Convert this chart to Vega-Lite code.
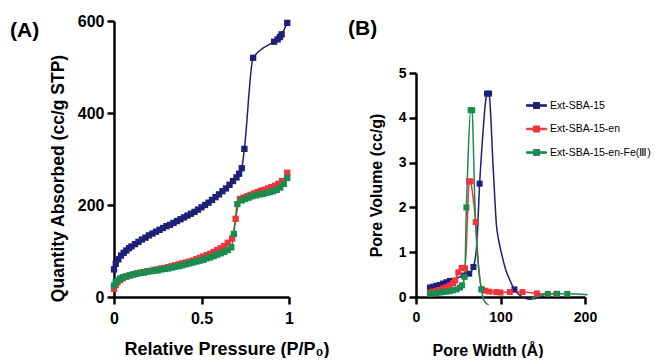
{
  "$schema": "https://vega.github.io/schema/vega-lite/v6.json",
  "background": "white",
  "padding": {"left": 10, "top": 13, "right": 0, "bottom": 0},
  "bounds": "flush",
  "spacing": 127,
  "config": {
    "view": {"stroke": null},
    "font": "Liberation Sans",
    "axis": {
      "grid": false,
      "domainColor": "black",
      "domainWidth": 2.5,
      "tickColor": "black",
      "tickWidth": 2.5,
      "tickSize": 7,
      "labelColor": "black",
      "labelFontWeight": "bold",
      "titleColor": "black",
      "titleFontWeight": "bold",
      "labelPadding": 3,
      "labelOverlap": false
    }
  },
  "datasets": {
    "isotherm": [
      {"sample": "Ext-SBA-15", "pressure": 0.0, "quantity": 60},
      {"sample": "Ext-SBA-15", "pressure": 0.01, "quantity": 72},
      {"sample": "Ext-SBA-15", "pressure": 0.025, "quantity": 82},
      {"sample": "Ext-SBA-15", "pressure": 0.04, "quantity": 90},
      {"sample": "Ext-SBA-15", "pressure": 0.055, "quantity": 96},
      {"sample": "Ext-SBA-15", "pressure": 0.07, "quantity": 101},
      {"sample": "Ext-SBA-15", "pressure": 0.085, "quantity": 106},
      {"sample": "Ext-SBA-15", "pressure": 0.1, "quantity": 110},
      {"sample": "Ext-SBA-15", "pressure": 0.12, "quantity": 115},
      {"sample": "Ext-SBA-15", "pressure": 0.14, "quantity": 120},
      {"sample": "Ext-SBA-15", "pressure": 0.16, "quantity": 125},
      {"sample": "Ext-SBA-15", "pressure": 0.18, "quantity": 129},
      {"sample": "Ext-SBA-15", "pressure": 0.2, "quantity": 134},
      {"sample": "Ext-SBA-15", "pressure": 0.22, "quantity": 138},
      {"sample": "Ext-SBA-15", "pressure": 0.24, "quantity": 142},
      {"sample": "Ext-SBA-15", "pressure": 0.26, "quantity": 146},
      {"sample": "Ext-SBA-15", "pressure": 0.28, "quantity": 150},
      {"sample": "Ext-SBA-15", "pressure": 0.3, "quantity": 154},
      {"sample": "Ext-SBA-15", "pressure": 0.32, "quantity": 157},
      {"sample": "Ext-SBA-15", "pressure": 0.34, "quantity": 161},
      {"sample": "Ext-SBA-15", "pressure": 0.36, "quantity": 165},
      {"sample": "Ext-SBA-15", "pressure": 0.38, "quantity": 169},
      {"sample": "Ext-SBA-15", "pressure": 0.4, "quantity": 173},
      {"sample": "Ext-SBA-15", "pressure": 0.42, "quantity": 177},
      {"sample": "Ext-SBA-15", "pressure": 0.44, "quantity": 181},
      {"sample": "Ext-SBA-15", "pressure": 0.46, "quantity": 185},
      {"sample": "Ext-SBA-15", "pressure": 0.48, "quantity": 190},
      {"sample": "Ext-SBA-15", "pressure": 0.5, "quantity": 195},
      {"sample": "Ext-SBA-15", "pressure": 0.52, "quantity": 200},
      {"sample": "Ext-SBA-15", "pressure": 0.54, "quantity": 205},
      {"sample": "Ext-SBA-15", "pressure": 0.56, "quantity": 211},
      {"sample": "Ext-SBA-15", "pressure": 0.58, "quantity": 217},
      {"sample": "Ext-SBA-15", "pressure": 0.6, "quantity": 223},
      {"sample": "Ext-SBA-15", "pressure": 0.62, "quantity": 230},
      {"sample": "Ext-SBA-15", "pressure": 0.64, "quantity": 236},
      {"sample": "Ext-SBA-15", "pressure": 0.66, "quantity": 244},
      {"sample": "Ext-SBA-15", "pressure": 0.68, "quantity": 252},
      {"sample": "Ext-SBA-15", "pressure": 0.7, "quantity": 260},
      {"sample": "Ext-SBA-15", "pressure": 0.715, "quantity": 268},
      {"sample": "Ext-SBA-15", "pressure": 0.73, "quantity": 280},
      {"sample": "Ext-SBA-15", "pressure": 0.745, "quantity": 322},
      {"sample": "Ext-SBA-15", "pressure": 0.795, "quantity": 520},
      {"sample": "Ext-SBA-15", "pressure": 0.915, "quantity": 555},
      {"sample": "Ext-SBA-15", "pressure": 0.935, "quantity": 560},
      {"sample": "Ext-SBA-15", "pressure": 0.948, "quantity": 565},
      {"sample": "Ext-SBA-15", "pressure": 0.958, "quantity": 571},
      {"sample": "Ext-SBA-15", "pressure": 0.99, "quantity": 596},
      {"sample": "Ext-SBA-15-en", "pressure": 0.0, "quantity": 18},
      {"sample": "Ext-SBA-15-en", "pressure": 0.01, "quantity": 26},
      {"sample": "Ext-SBA-15-en", "pressure": 0.02, "quantity": 32},
      {"sample": "Ext-SBA-15-en", "pressure": 0.035, "quantity": 37},
      {"sample": "Ext-SBA-15-en", "pressure": 0.05, "quantity": 41},
      {"sample": "Ext-SBA-15-en", "pressure": 0.07, "quantity": 44},
      {"sample": "Ext-SBA-15-en", "pressure": 0.09, "quantity": 47},
      {"sample": "Ext-SBA-15-en", "pressure": 0.11, "quantity": 49},
      {"sample": "Ext-SBA-15-en", "pressure": 0.13, "quantity": 51},
      {"sample": "Ext-SBA-15-en", "pressure": 0.15, "quantity": 53},
      {"sample": "Ext-SBA-15-en", "pressure": 0.17, "quantity": 54},
      {"sample": "Ext-SBA-15-en", "pressure": 0.19, "quantity": 56},
      {"sample": "Ext-SBA-15-en", "pressure": 0.21, "quantity": 57},
      {"sample": "Ext-SBA-15-en", "pressure": 0.23, "quantity": 59},
      {"sample": "Ext-SBA-15-en", "pressure": 0.25, "quantity": 60},
      {"sample": "Ext-SBA-15-en", "pressure": 0.27, "quantity": 62},
      {"sample": "Ext-SBA-15-en", "pressure": 0.29, "quantity": 63},
      {"sample": "Ext-SBA-15-en", "pressure": 0.31, "quantity": 65},
      {"sample": "Ext-SBA-15-en", "pressure": 0.33, "quantity": 67},
      {"sample": "Ext-SBA-15-en", "pressure": 0.35, "quantity": 69},
      {"sample": "Ext-SBA-15-en", "pressure": 0.37, "quantity": 71},
      {"sample": "Ext-SBA-15-en", "pressure": 0.39, "quantity": 73},
      {"sample": "Ext-SBA-15-en", "pressure": 0.41, "quantity": 75},
      {"sample": "Ext-SBA-15-en", "pressure": 0.43, "quantity": 77},
      {"sample": "Ext-SBA-15-en", "pressure": 0.45, "quantity": 79},
      {"sample": "Ext-SBA-15-en", "pressure": 0.47, "quantity": 82},
      {"sample": "Ext-SBA-15-en", "pressure": 0.49, "quantity": 85},
      {"sample": "Ext-SBA-15-en", "pressure": 0.51, "quantity": 88},
      {"sample": "Ext-SBA-15-en", "pressure": 0.53, "quantity": 91},
      {"sample": "Ext-SBA-15-en", "pressure": 0.55, "quantity": 94},
      {"sample": "Ext-SBA-15-en", "pressure": 0.57, "quantity": 98},
      {"sample": "Ext-SBA-15-en", "pressure": 0.59, "quantity": 102},
      {"sample": "Ext-SBA-15-en", "pressure": 0.61, "quantity": 106},
      {"sample": "Ext-SBA-15-en", "pressure": 0.63, "quantity": 111},
      {"sample": "Ext-SBA-15-en", "pressure": 0.65, "quantity": 118},
      {"sample": "Ext-SBA-15-en", "pressure": 0.675, "quantity": 127},
      {"sample": "Ext-SBA-15-en", "pressure": 0.695, "quantity": 170},
      {"sample": "Ext-SBA-15-en", "pressure": 0.72, "quantity": 213},
      {"sample": "Ext-SBA-15-en", "pressure": 0.74, "quantity": 216},
      {"sample": "Ext-SBA-15-en", "pressure": 0.76, "quantity": 219},
      {"sample": "Ext-SBA-15-en", "pressure": 0.78, "quantity": 222},
      {"sample": "Ext-SBA-15-en", "pressure": 0.8, "quantity": 225},
      {"sample": "Ext-SBA-15-en", "pressure": 0.82, "quantity": 228},
      {"sample": "Ext-SBA-15-en", "pressure": 0.84, "quantity": 231},
      {"sample": "Ext-SBA-15-en", "pressure": 0.86, "quantity": 233},
      {"sample": "Ext-SBA-15-en", "pressure": 0.88, "quantity": 236},
      {"sample": "Ext-SBA-15-en", "pressure": 0.9, "quantity": 239},
      {"sample": "Ext-SBA-15-en", "pressure": 0.92, "quantity": 242},
      {"sample": "Ext-SBA-15-en", "pressure": 0.94, "quantity": 246},
      {"sample": "Ext-SBA-15-en", "pressure": 0.96, "quantity": 252},
      {"sample": "Ext-SBA-15-en", "pressure": 0.99, "quantity": 270},
      {"sample": "Ext-SBA-15-en-Fe(Ⅲ)", "pressure": 0.0, "quantity": 25},
      {"sample": "Ext-SBA-15-en-Fe(Ⅲ)", "pressure": 0.01, "quantity": 32},
      {"sample": "Ext-SBA-15-en-Fe(Ⅲ)", "pressure": 0.02, "quantity": 36},
      {"sample": "Ext-SBA-15-en-Fe(Ⅲ)", "pressure": 0.035, "quantity": 40},
      {"sample": "Ext-SBA-15-en-Fe(Ⅲ)", "pressure": 0.05, "quantity": 43},
      {"sample": "Ext-SBA-15-en-Fe(Ⅲ)", "pressure": 0.07, "quantity": 45},
      {"sample": "Ext-SBA-15-en-Fe(Ⅲ)", "pressure": 0.09, "quantity": 47},
      {"sample": "Ext-SBA-15-en-Fe(Ⅲ)", "pressure": 0.11, "quantity": 49},
      {"sample": "Ext-SBA-15-en-Fe(Ⅲ)", "pressure": 0.13, "quantity": 51},
      {"sample": "Ext-SBA-15-en-Fe(Ⅲ)", "pressure": 0.15, "quantity": 52},
      {"sample": "Ext-SBA-15-en-Fe(Ⅲ)", "pressure": 0.17, "quantity": 53},
      {"sample": "Ext-SBA-15-en-Fe(Ⅲ)", "pressure": 0.19, "quantity": 55},
      {"sample": "Ext-SBA-15-en-Fe(Ⅲ)", "pressure": 0.21, "quantity": 56},
      {"sample": "Ext-SBA-15-en-Fe(Ⅲ)", "pressure": 0.23, "quantity": 57},
      {"sample": "Ext-SBA-15-en-Fe(Ⅲ)", "pressure": 0.25, "quantity": 58},
      {"sample": "Ext-SBA-15-en-Fe(Ⅲ)", "pressure": 0.27, "quantity": 60},
      {"sample": "Ext-SBA-15-en-Fe(Ⅲ)", "pressure": 0.29, "quantity": 61},
      {"sample": "Ext-SBA-15-en-Fe(Ⅲ)", "pressure": 0.31, "quantity": 62},
      {"sample": "Ext-SBA-15-en-Fe(Ⅲ)", "pressure": 0.33, "quantity": 64},
      {"sample": "Ext-SBA-15-en-Fe(Ⅲ)", "pressure": 0.35, "quantity": 66},
      {"sample": "Ext-SBA-15-en-Fe(Ⅲ)", "pressure": 0.37, "quantity": 67},
      {"sample": "Ext-SBA-15-en-Fe(Ⅲ)", "pressure": 0.39, "quantity": 69},
      {"sample": "Ext-SBA-15-en-Fe(Ⅲ)", "pressure": 0.41, "quantity": 71},
      {"sample": "Ext-SBA-15-en-Fe(Ⅲ)", "pressure": 0.43, "quantity": 73},
      {"sample": "Ext-SBA-15-en-Fe(Ⅲ)", "pressure": 0.45, "quantity": 75},
      {"sample": "Ext-SBA-15-en-Fe(Ⅲ)", "pressure": 0.47, "quantity": 77},
      {"sample": "Ext-SBA-15-en-Fe(Ⅲ)", "pressure": 0.49, "quantity": 79},
      {"sample": "Ext-SBA-15-en-Fe(Ⅲ)", "pressure": 0.51, "quantity": 81},
      {"sample": "Ext-SBA-15-en-Fe(Ⅲ)", "pressure": 0.53, "quantity": 84},
      {"sample": "Ext-SBA-15-en-Fe(Ⅲ)", "pressure": 0.55, "quantity": 86},
      {"sample": "Ext-SBA-15-en-Fe(Ⅲ)", "pressure": 0.57, "quantity": 89},
      {"sample": "Ext-SBA-15-en-Fe(Ⅲ)", "pressure": 0.59, "quantity": 92},
      {"sample": "Ext-SBA-15-en-Fe(Ⅲ)", "pressure": 0.61, "quantity": 95},
      {"sample": "Ext-SBA-15-en-Fe(Ⅲ)", "pressure": 0.63, "quantity": 98},
      {"sample": "Ext-SBA-15-en-Fe(Ⅲ)", "pressure": 0.65, "quantity": 102},
      {"sample": "Ext-SBA-15-en-Fe(Ⅲ)", "pressure": 0.67, "quantity": 108},
      {"sample": "Ext-SBA-15-en-Fe(Ⅲ)", "pressure": 0.685, "quantity": 137},
      {"sample": "Ext-SBA-15-en-Fe(Ⅲ)", "pressure": 0.705, "quantity": 202},
      {"sample": "Ext-SBA-15-en-Fe(Ⅲ)", "pressure": 0.73, "quantity": 210},
      {"sample": "Ext-SBA-15-en-Fe(Ⅲ)", "pressure": 0.75, "quantity": 213},
      {"sample": "Ext-SBA-15-en-Fe(Ⅲ)", "pressure": 0.77, "quantity": 216},
      {"sample": "Ext-SBA-15-en-Fe(Ⅲ)", "pressure": 0.79, "quantity": 219},
      {"sample": "Ext-SBA-15-en-Fe(Ⅲ)", "pressure": 0.81, "quantity": 221},
      {"sample": "Ext-SBA-15-en-Fe(Ⅲ)", "pressure": 0.83, "quantity": 223},
      {"sample": "Ext-SBA-15-en-Fe(Ⅲ)", "pressure": 0.85, "quantity": 224},
      {"sample": "Ext-SBA-15-en-Fe(Ⅲ)", "pressure": 0.87, "quantity": 226},
      {"sample": "Ext-SBA-15-en-Fe(Ⅲ)", "pressure": 0.89, "quantity": 228},
      {"sample": "Ext-SBA-15-en-Fe(Ⅲ)", "pressure": 0.91, "quantity": 230},
      {"sample": "Ext-SBA-15-en-Fe(Ⅲ)", "pressure": 0.93, "quantity": 233},
      {"sample": "Ext-SBA-15-en-Fe(Ⅲ)", "pressure": 0.95, "quantity": 238},
      {"sample": "Ext-SBA-15-en-Fe(Ⅲ)", "pressure": 0.97, "quantity": 246},
      {"sample": "Ext-SBA-15-en-Fe(Ⅲ)", "pressure": 0.99, "quantity": 259}
    ],
    "psdLine": [
      {"sample": "Ext-SBA-15", "segment": 1, "pore_width": 16.5, "pore_volume": 0.21},
      {"sample": "Ext-SBA-15", "segment": 1, "pore_width": 20, "pore_volume": 0.23},
      {"sample": "Ext-SBA-15", "segment": 1, "pore_width": 24, "pore_volume": 0.25},
      {"sample": "Ext-SBA-15", "segment": 1, "pore_width": 28, "pore_volume": 0.27},
      {"sample": "Ext-SBA-15", "segment": 1, "pore_width": 32, "pore_volume": 0.3},
      {"sample": "Ext-SBA-15", "segment": 1, "pore_width": 36, "pore_volume": 0.33},
      {"sample": "Ext-SBA-15", "segment": 1, "pore_width": 40, "pore_volume": 0.36},
      {"sample": "Ext-SBA-15", "segment": 1, "pore_width": 44, "pore_volume": 0.39},
      {"sample": "Ext-SBA-15", "segment": 1, "pore_width": 48, "pore_volume": 0.42},
      {"sample": "Ext-SBA-15", "segment": 1, "pore_width": 52, "pore_volume": 0.45},
      {"sample": "Ext-SBA-15", "segment": 1, "pore_width": 57, "pore_volume": 0.48},
      {"sample": "Ext-SBA-15", "segment": 1, "pore_width": 63, "pore_volume": 0.52},
      {"sample": "Ext-SBA-15", "segment": 1, "pore_width": 68, "pore_volume": 0.67},
      {"sample": "Ext-SBA-15", "segment": 1, "pore_width": 72, "pore_volume": 1.2},
      {"sample": "Ext-SBA-15", "segment": 1, "pore_width": 75.3, "pore_volume": 2.53},
      {"sample": "Ext-SBA-15", "segment": 1, "pore_width": 79, "pore_volume": 3.6},
      {"sample": "Ext-SBA-15", "segment": 1, "pore_width": 82, "pore_volume": 4.3},
      {"sample": "Ext-SBA-15", "segment": 1, "pore_width": 84, "pore_volume": 4.54},
      {"sample": "Ext-SBA-15", "segment": 1, "pore_width": 86.5, "pore_volume": 4.54},
      {"sample": "Ext-SBA-15", "segment": 1, "pore_width": 88, "pore_volume": 4.2},
      {"sample": "Ext-SBA-15", "segment": 1, "pore_width": 91, "pore_volume": 3.0},
      {"sample": "Ext-SBA-15", "segment": 1, "pore_width": 93, "pore_volume": 2.3},
      {"sample": "Ext-SBA-15", "segment": 1, "pore_width": 95, "pore_volume": 1.65},
      {"sample": "Ext-SBA-15", "segment": 1, "pore_width": 98, "pore_volume": 1.25},
      {"sample": "Ext-SBA-15", "segment": 1, "pore_width": 101, "pore_volume": 0.99},
      {"sample": "Ext-SBA-15", "segment": 1, "pore_width": 106, "pore_volume": 0.62},
      {"sample": "Ext-SBA-15", "segment": 1, "pore_width": 111, "pore_volume": 0.38},
      {"sample": "Ext-SBA-15", "segment": 1, "pore_width": 116.5, "pore_volume": 0.17},
      {"sample": "Ext-SBA-15", "segment": 1, "pore_width": 122, "pore_volume": 0.05},
      {"sample": "Ext-SBA-15", "segment": 1, "pore_width": 128, "pore_volume": -0.02},
      {"sample": "Ext-SBA-15", "segment": 1, "pore_width": 134, "pore_volume": -0.05},
      {"sample": "Ext-SBA-15", "segment": 1, "pore_width": 140, "pore_volume": -0.04},
      {"sample": "Ext-SBA-15", "segment": 1, "pore_width": 146, "pore_volume": 0.0},
      {"sample": "Ext-SBA-15", "segment": 1, "pore_width": 152, "pore_volume": 0.02},
      {"sample": "Ext-SBA-15-en", "segment": 1, "pore_width": 16.5, "pore_volume": 0.1},
      {"sample": "Ext-SBA-15-en", "segment": 1, "pore_width": 20, "pore_volume": 0.12},
      {"sample": "Ext-SBA-15-en", "segment": 1, "pore_width": 24, "pore_volume": 0.14},
      {"sample": "Ext-SBA-15-en", "segment": 1, "pore_width": 28, "pore_volume": 0.16},
      {"sample": "Ext-SBA-15-en", "segment": 1, "pore_width": 32, "pore_volume": 0.19},
      {"sample": "Ext-SBA-15-en", "segment": 1, "pore_width": 36, "pore_volume": 0.22},
      {"sample": "Ext-SBA-15-en", "segment": 1, "pore_width": 40, "pore_volume": 0.26},
      {"sample": "Ext-SBA-15-en", "segment": 1, "pore_width": 44, "pore_volume": 0.31},
      {"sample": "Ext-SBA-15-en", "segment": 1, "pore_width": 46.5, "pore_volume": 0.37},
      {"sample": "Ext-SBA-15-en", "segment": 1, "pore_width": 50, "pore_volume": 0.55},
      {"sample": "Ext-SBA-15-en", "segment": 1, "pore_width": 54, "pore_volume": 0.65},
      {"sample": "Ext-SBA-15-en", "segment": 1, "pore_width": 58, "pore_volume": 0.64},
      {"sample": "Ext-SBA-15-en", "segment": 1, "pore_width": 61, "pore_volume": 1.8},
      {"sample": "Ext-SBA-15-en", "segment": 1, "pore_width": 62.7, "pore_volume": 2.58},
      {"sample": "Ext-SBA-15-en", "segment": 1, "pore_width": 64.5, "pore_volume": 2.58},
      {"sample": "Ext-SBA-15-en", "segment": 1, "pore_width": 67, "pore_volume": 2.3},
      {"sample": "Ext-SBA-15-en", "segment": 1, "pore_width": 70.6, "pore_volume": 1.67},
      {"sample": "Ext-SBA-15-en", "segment": 1, "pore_width": 74, "pore_volume": 0.7},
      {"sample": "Ext-SBA-15-en", "segment": 1, "pore_width": 78, "pore_volume": 0.17},
      {"sample": "Ext-SBA-15-en", "segment": 1, "pore_width": 82, "pore_volume": 0.14},
      {"sample": "Ext-SBA-15-en", "segment": 1, "pore_width": 87, "pore_volume": 0.12},
      {"sample": "Ext-SBA-15-en", "segment": 1, "pore_width": 95, "pore_volume": 0.11},
      {"sample": "Ext-SBA-15-en", "segment": 1, "pore_width": 100, "pore_volume": 0.1},
      {"sample": "Ext-SBA-15-en", "segment": 1, "pore_width": 111, "pore_volume": 0.11},
      {"sample": "Ext-SBA-15-en", "segment": 1, "pore_width": 126, "pore_volume": 0.11},
      {"sample": "Ext-SBA-15-en", "segment": 1, "pore_width": 143, "pore_volume": 0.08},
      {"sample": "Ext-SBA-15-en", "segment": 1, "pore_width": 166, "pore_volume": 0.07},
      {"sample": "Ext-SBA-15-en-Fe(Ⅲ)", "segment": 1, "pore_width": 16.5, "pore_volume": 0.07},
      {"sample": "Ext-SBA-15-en-Fe(Ⅲ)", "segment": 1, "pore_width": 20, "pore_volume": 0.08},
      {"sample": "Ext-SBA-15-en-Fe(Ⅲ)", "segment": 1, "pore_width": 24, "pore_volume": 0.09},
      {"sample": "Ext-SBA-15-en-Fe(Ⅲ)", "segment": 1, "pore_width": 28, "pore_volume": 0.1},
      {"sample": "Ext-SBA-15-en-Fe(Ⅲ)", "segment": 1, "pore_width": 32, "pore_volume": 0.11},
      {"sample": "Ext-SBA-15-en-Fe(Ⅲ)", "segment": 1, "pore_width": 36, "pore_volume": 0.12},
      {"sample": "Ext-SBA-15-en-Fe(Ⅲ)", "segment": 1, "pore_width": 40, "pore_volume": 0.13},
      {"sample": "Ext-SBA-15-en-Fe(Ⅲ)", "segment": 1, "pore_width": 44, "pore_volume": 0.15},
      {"sample": "Ext-SBA-15-en-Fe(Ⅲ)", "segment": 1, "pore_width": 48, "pore_volume": 0.17},
      {"sample": "Ext-SBA-15-en-Fe(Ⅲ)", "segment": 1, "pore_width": 52, "pore_volume": 0.21},
      {"sample": "Ext-SBA-15-en-Fe(Ⅲ)", "segment": 1, "pore_width": 54.5, "pore_volume": 0.26},
      {"sample": "Ext-SBA-15-en-Fe(Ⅲ)", "segment": 1, "pore_width": 57.6, "pore_volume": 0.45},
      {"sample": "Ext-SBA-15-en-Fe(Ⅲ)", "segment": 1, "pore_width": 59.6, "pore_volume": 2.0},
      {"sample": "Ext-SBA-15-en-Fe(Ⅲ)", "segment": 1, "pore_width": 61.6, "pore_volume": 3.1},
      {"sample": "Ext-SBA-15-en-Fe(Ⅲ)", "segment": 1, "pore_width": 64.7, "pore_volume": 4.17},
      {"sample": "Ext-SBA-15-en-Fe(Ⅲ)", "segment": 1, "pore_width": 66.5, "pore_volume": 4.17},
      {"sample": "Ext-SBA-15-en-Fe(Ⅲ)", "segment": 1, "pore_width": 68, "pore_volume": 3.3},
      {"sample": "Ext-SBA-15-en-Fe(Ⅲ)", "segment": 1, "pore_width": 69.5, "pore_volume": 2.2},
      {"sample": "Ext-SBA-15-en-Fe(Ⅲ)", "segment": 1, "pore_width": 71.5, "pore_volume": 1.3},
      {"sample": "Ext-SBA-15-en-Fe(Ⅲ)", "segment": 1, "pore_width": 73.3, "pore_volume": 0.8},
      {"sample": "Ext-SBA-15-en-Fe(Ⅲ)", "segment": 1, "pore_width": 77.3, "pore_volume": 0.17},
      {"sample": "Ext-SBA-15-en-Fe(Ⅲ)", "segment": 1, "pore_width": 80, "pore_volume": -0.05},
      {"sample": "Ext-SBA-15-en-Fe(Ⅲ)", "segment": 1, "pore_width": 83, "pore_volume": -0.14},
      {"sample": "Ext-SBA-15-en-Fe(Ⅲ)", "segment": 1, "pore_width": 86, "pore_volume": -0.17},
      {"sample": "Ext-SBA-15-en-Fe(Ⅲ)", "segment": 2, "pore_width": 136, "pore_volume": -0.05},
      {"sample": "Ext-SBA-15-en-Fe(Ⅲ)", "segment": 2, "pore_width": 143, "pore_volume": 0.01},
      {"sample": "Ext-SBA-15-en-Fe(Ⅲ)", "segment": 2, "pore_width": 150, "pore_volume": 0.05},
      {"sample": "Ext-SBA-15-en-Fe(Ⅲ)", "segment": 2, "pore_width": 156, "pore_volume": 0.07},
      {"sample": "Ext-SBA-15-en-Fe(Ⅲ)", "segment": 2, "pore_width": 167, "pore_volume": 0.07},
      {"sample": "Ext-SBA-15-en-Fe(Ⅲ)", "segment": 2, "pore_width": 179, "pore_volume": 0.07},
      {"sample": "Ext-SBA-15-en-Fe(Ⅲ)", "segment": 2, "pore_width": 203, "pore_volume": 0.05}
    ],
    "psdMarkers": [
      {"sample": "Ext-SBA-15", "pore_width": 16.5, "pore_volume": 0.21},
      {"sample": "Ext-SBA-15", "pore_width": 20, "pore_volume": 0.23},
      {"sample": "Ext-SBA-15", "pore_width": 24, "pore_volume": 0.25},
      {"sample": "Ext-SBA-15", "pore_width": 28, "pore_volume": 0.27},
      {"sample": "Ext-SBA-15", "pore_width": 32, "pore_volume": 0.3},
      {"sample": "Ext-SBA-15", "pore_width": 36, "pore_volume": 0.33},
      {"sample": "Ext-SBA-15", "pore_width": 40, "pore_volume": 0.36},
      {"sample": "Ext-SBA-15", "pore_width": 57, "pore_volume": 0.48},
      {"sample": "Ext-SBA-15", "pore_width": 63, "pore_volume": 0.52},
      {"sample": "Ext-SBA-15", "pore_width": 68, "pore_volume": 0.67},
      {"sample": "Ext-SBA-15", "pore_width": 75.3, "pore_volume": 2.53},
      {"sample": "Ext-SBA-15", "pore_width": 84, "pore_volume": 4.54},
      {"sample": "Ext-SBA-15", "pore_width": 86.5, "pore_volume": 4.54},
      {"sample": "Ext-SBA-15", "pore_width": 116.5, "pore_volume": 0.17},
      {"sample": "Ext-SBA-15-en", "pore_width": 16.5, "pore_volume": 0.1},
      {"sample": "Ext-SBA-15-en", "pore_width": 20, "pore_volume": 0.12},
      {"sample": "Ext-SBA-15-en", "pore_width": 24, "pore_volume": 0.14},
      {"sample": "Ext-SBA-15-en", "pore_width": 28, "pore_volume": 0.16},
      {"sample": "Ext-SBA-15-en", "pore_width": 32, "pore_volume": 0.19},
      {"sample": "Ext-SBA-15-en", "pore_width": 36, "pore_volume": 0.22},
      {"sample": "Ext-SBA-15-en", "pore_width": 40, "pore_volume": 0.26},
      {"sample": "Ext-SBA-15-en", "pore_width": 44, "pore_volume": 0.31},
      {"sample": "Ext-SBA-15-en", "pore_width": 46.5, "pore_volume": 0.37},
      {"sample": "Ext-SBA-15-en", "pore_width": 50, "pore_volume": 0.55},
      {"sample": "Ext-SBA-15-en", "pore_width": 54, "pore_volume": 0.65},
      {"sample": "Ext-SBA-15-en", "pore_width": 58, "pore_volume": 0.64},
      {"sample": "Ext-SBA-15-en", "pore_width": 62.7, "pore_volume": 2.58},
      {"sample": "Ext-SBA-15-en", "pore_width": 64.5, "pore_volume": 2.58},
      {"sample": "Ext-SBA-15-en", "pore_width": 70.6, "pore_volume": 1.67},
      {"sample": "Ext-SBA-15-en", "pore_width": 78, "pore_volume": 0.17},
      {"sample": "Ext-SBA-15-en", "pore_width": 82, "pore_volume": 0.14},
      {"sample": "Ext-SBA-15-en", "pore_width": 87, "pore_volume": 0.12},
      {"sample": "Ext-SBA-15-en", "pore_width": 95, "pore_volume": 0.11},
      {"sample": "Ext-SBA-15-en", "pore_width": 100, "pore_volume": 0.1},
      {"sample": "Ext-SBA-15-en", "pore_width": 111, "pore_volume": 0.11},
      {"sample": "Ext-SBA-15-en", "pore_width": 126, "pore_volume": 0.11},
      {"sample": "Ext-SBA-15-en", "pore_width": 143, "pore_volume": 0.08},
      {"sample": "Ext-SBA-15-en", "pore_width": 166, "pore_volume": 0.07},
      {"sample": "Ext-SBA-15-en-Fe(Ⅲ)", "pore_width": 16.5, "pore_volume": 0.07},
      {"sample": "Ext-SBA-15-en-Fe(Ⅲ)", "pore_width": 20, "pore_volume": 0.08},
      {"sample": "Ext-SBA-15-en-Fe(Ⅲ)", "pore_width": 24, "pore_volume": 0.09},
      {"sample": "Ext-SBA-15-en-Fe(Ⅲ)", "pore_width": 28, "pore_volume": 0.1},
      {"sample": "Ext-SBA-15-en-Fe(Ⅲ)", "pore_width": 32, "pore_volume": 0.11},
      {"sample": "Ext-SBA-15-en-Fe(Ⅲ)", "pore_width": 36, "pore_volume": 0.12},
      {"sample": "Ext-SBA-15-en-Fe(Ⅲ)", "pore_width": 40, "pore_volume": 0.13},
      {"sample": "Ext-SBA-15-en-Fe(Ⅲ)", "pore_width": 44, "pore_volume": 0.15},
      {"sample": "Ext-SBA-15-en-Fe(Ⅲ)", "pore_width": 48, "pore_volume": 0.17},
      {"sample": "Ext-SBA-15-en-Fe(Ⅲ)", "pore_width": 52, "pore_volume": 0.21},
      {"sample": "Ext-SBA-15-en-Fe(Ⅲ)", "pore_width": 54.5, "pore_volume": 0.26},
      {"sample": "Ext-SBA-15-en-Fe(Ⅲ)", "pore_width": 57.6, "pore_volume": 0.45},
      {"sample": "Ext-SBA-15-en-Fe(Ⅲ)", "pore_width": 59.6, "pore_volume": 2.0},
      {"sample": "Ext-SBA-15-en-Fe(Ⅲ)", "pore_width": 64.7, "pore_volume": 4.17},
      {"sample": "Ext-SBA-15-en-Fe(Ⅲ)", "pore_width": 66.5, "pore_volume": 4.17},
      {"sample": "Ext-SBA-15-en-Fe(Ⅲ)", "pore_width": 77.3, "pore_volume": 0.17},
      {"sample": "Ext-SBA-15-en-Fe(Ⅲ)", "pore_width": 156, "pore_volume": 0.07},
      {"sample": "Ext-SBA-15-en-Fe(Ⅲ)", "pore_width": 167, "pore_volume": 0.07},
      {"sample": "Ext-SBA-15-en-Fe(Ⅲ)", "pore_width": 179, "pore_volume": 0.07}
    ]
  },
  "resolve": {"legend": {"color": "independent"}},
  "hconcat": [
    {
      "width": 175,
      "height": 276,
      "title": {"text": "(A)", "anchor": "start", "frame": "group", "orient": "top", "baseline": "middle", "offset": -7, "dx": -104, "dy": 32, "fontSize": 21, "fontWeight": "bold", "color": "black"},
      "data": {"name": "isotherm"},
      "encoding": {
        "x": {"field": "pressure", "type": "quantitative", "scale": {"domain": [0, 1], "nice": false},
              "axis": {"values": [0, 0.5, 1], "format": "~g", "title": "Relative Pressure (P/P₀)", "titleX": 112.5, "labelFontSize": 16, "titleFontSize": 18, "labelPadding": 6, "titlePadding": 14, "labelFlush": false}},
        "y": {"field": "quantity", "type": "quantitative", "scale": {"domain": [0, 600], "nice": false},
              "axis": {"values": [0, 200, 400, 600], "title": "Quantity Absorbed (cc/g STP)", "titleY": 157, "labelFontSize": 16, "titleFontSize": 17.5, "titlePadding": 10}},
        "color": {"field": "sample", "type": "nominal",
                  "scale": {"domain": ["Ext-SBA-15", "Ext-SBA-15-en", "Ext-SBA-15-en-Fe(Ⅲ)"], "range": ["#1f1f78", "#f0343c", "#1a8c4e"]},
                  "legend": null}
      },
      "layer": [
        {"mark": {"type": "line", "strokeWidth": 1.5, "interpolate": "monotone"}},
        {"mark": {"type": "square", "size": 40, "opacity": 1}}
      ]
    },
    {
      "width": 169,
      "height": 276,
      "title": {"text": "(B)", "anchor": "start", "frame": "group", "orient": "top", "baseline": "middle", "offset": -7, "dx": -68, "dy": 22, "fontSize": 21, "fontWeight": "bold", "color": "black"},
      "encoding": {
        "x": {"field": "pore_width", "type": "quantitative", "scale": {"domain": [0, 200], "nice": false},
              "axis": {"values": [0, 100, 200], "title": "Pore Width (Å)", "titleX": 71.5, "labelFontSize": 14, "titleFontSize": 16, "labelPadding": 6, "titlePadding": 18, "labelFlush": false}},
        "y": {"field": "pore_volume", "type": "quantitative", "scale": {"domain": [0, 5], "nice": false, "range": [276, 52]},
              "axis": {"values": [0, 1, 2, 3, 4, 5], "title": "Pore Volume (cc/g)", "titleY": 164, "labelFontSize": 14, "titleFontSize": 16, "titlePadding": 14}},
        "color": {"field": "sample", "type": "nominal",
                  "scale": {"domain": ["Ext-SBA-15", "Ext-SBA-15-en", "Ext-SBA-15-en-Fe(Ⅲ)"], "range": ["#1f1f78", "#f0343c", "#1a8c4e"]},
                  "legend": {"orient": "none", "legendX": 110, "legendY": 74, "title": null,
                             "symbolType": "M-1,-0.075H1V0.075H-1Z M-0.3,-0.3H0.3V0.3H-0.3Z",
                             "symbolSize": 400, "symbolStrokeWidth": 1, "labelFont": "Liberation Sans", "labelFontSize": 10.5,
                             "labelColor": "black", "rowPadding": 7.5, "labelOffset": 3, "labelLimit": 300}}
      },
      "layer": [
        {"data": {"name": "psdLine"}, "mark": {"type": "line", "strokeWidth": 1.5, "interpolate": "monotone"},
         "encoding": {"detail": {"field": "segment", "type": "nominal"}}},
        {"data": {"name": "psdMarkers"}, "mark": {"type": "square", "size": 36, "opacity": 1}}
      ]
    }
  ]
}
